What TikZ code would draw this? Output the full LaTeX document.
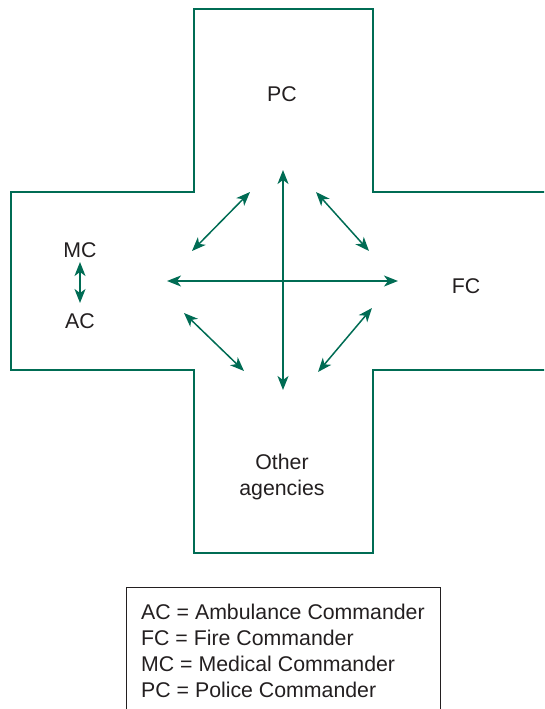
\documentclass[tikz,border=0pt]{standalone}
\usepackage{fontspec}
\setmainfont{Liberation Sans}
\usetikzlibrary{arrows.meta}
\definecolor{cmdgreen}{RGB}{0,108,84}
\definecolor{inkgrey}{RGB}{35,31,32}
\tikzset{
  outline/.style={draw=cmdgreen, line width=1.5pt},
  link/.style={draw=cmdgreen, line width=1.5pt,
    {Stealth[length=14pt,width=11pt,inset=4pt]}-{Stealth[length=14pt,width=11pt,inset=4pt]}},
  label/.style={text=inkgrey, font=\fontsize{21.3}{26}\selectfont, inner sep=0pt, anchor=base},
  keyline/.style={label, anchor=base west},
  keybox/.style={draw=inkgrey, line width=1pt}
}
\begin{document}
\begin{tikzpicture}[x=1pt,y=-1pt]
\useasboundingbox (0,0) rectangle (544,709);
\begin{scope}
\clip (0,0) rectangle (544,709);
% cross-shaped command area (right arm runs off the edge)
\draw[outline] (550,370) -- (373,370) -- (373,553) -- (194,553) -- (194,370)
  -- (11,370) -- (11,192) -- (194,192) -- (194,9) -- (373,9) -- (373,192) -- (550,192);
% key box, open at the bottom
\draw[keybox] (126,712) -- (126,587) -- (440,587) -- (440,712);
\end{scope}

% commanders
\node[label] (pc) at (282,101) {PC};
\node[label] (fc) at (466,293) {FC};
\node[label] (mc) at (80,257) {MC};
\node[label] (ac) at (80,328) {AC};
\node[label, align=center] (other) at (282,495) {Other\\agencies};

% arrow end points
\coordinate (vt) at (283,170);
\coordinate (vb) at (283,390);
\coordinate (hl) at (167,281);
\coordinate (hr) at (398,281);
\coordinate (nwa) at (192,251);
\coordinate (nwb) at (250,192);
\coordinate (nea) at (316,192);
\coordinate (neb) at (369,251);
\coordinate (swa) at (184,313);
\coordinate (swb) at (244,371);
\coordinate (sea) at (372,308);
\coordinate (seb) at (318,372);
\coordinate (mca) at (80,262);
\coordinate (mcb) at (80,303);

\draw[link] (vt) -- (vb);
\draw[link] (hl) -- (hr);
\draw[link] (nwa) -- (nwb);
\draw[link] (nea) -- (neb);
\draw[link] (swa) -- (swb);
\draw[link] (sea) -- (seb);
\draw[link] (mca) -- (mcb);

% key
\node[keyline] (kac) at (141,619) {AC = Ambulance Commander};
\node[keyline] (kfc) at (141,645) {FC = Fire Commander};
\node[keyline] (kmc) at (141,671) {MC = Medical Commander};
\node[keyline] (kpc) at (141,697) {PC = Police Commander};
\end{tikzpicture}
\end{document}
